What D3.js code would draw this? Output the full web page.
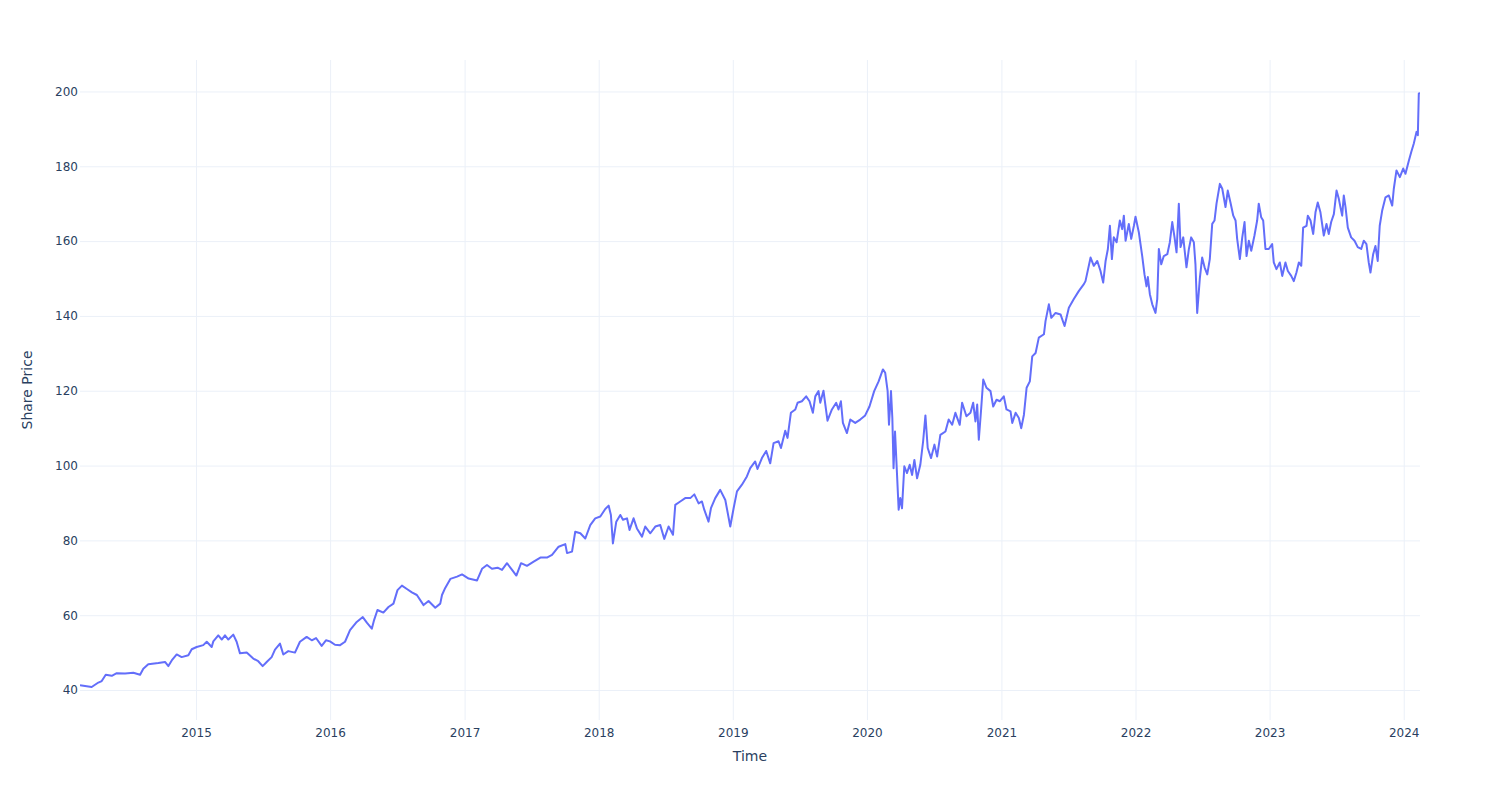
<!DOCTYPE html>
<html>
<head>
<meta charset="utf-8">
<script src="https://cdn.jsdelivr.net/npm/d3@7"></script>
<style>
  html, body { margin: 0; padding: 0; background: #fff; }
  svg { display: block; }
  text { font-family: "DejaVu Sans", "Open Sans", Verdana, Arial, sans-serif; }
</style>
</head>
<body>
<svg id="chart" width="1500" height="800"></svg>
<script>
// ---- data (decimal year, share price) ----
const timeYears = [
  2014.135, 2014.222, 2014.272, 2014.297, 2014.327, 2014.372, 2014.409, 2014.471, 2014.533, 2014.583,
  2014.607, 2014.644, 2014.719, 2014.769, 2014.794, 2014.819, 2014.856, 2014.893, 2014.943, 2014.968,
  2015.005, 2015.054, 2015.080, 2015.117, 2015.129, 2015.166, 2015.192, 2015.216, 2015.241, 2015.278,
  2015.303, 2015.328, 2015.378, 2015.427, 2015.464, 2015.497, 2015.527, 2015.564, 2015.589, 2015.626,
  2015.651, 2015.688, 2015.738, 2015.775, 2015.825, 2015.863, 2015.895, 2015.937, 2015.969, 2015.999,
  2016.036, 2016.074, 2016.111, 2016.148, 2016.198, 2016.243, 2016.273, 2016.310, 2016.327, 2016.352,
  2016.396, 2016.434, 2016.471, 2016.501, 2016.534, 2016.571, 2016.608, 2016.645, 2016.695, 2016.732,
  2016.782, 2016.819, 2016.832, 2016.856, 2016.894, 2016.944, 2016.981, 2017.030, 2017.093, 2017.130,
  2017.167, 2017.204, 2017.246, 2017.279, 2017.316, 2017.354, 2017.386, 2017.421, 2017.465, 2017.515,
  2017.565, 2017.614, 2017.652, 2017.701, 2017.751, 2017.764, 2017.801, 2017.825, 2017.863, 2017.900,
  2017.937, 2017.974, 2018.012, 2018.049, 2018.074, 2018.091, 2018.106, 2018.131, 2018.161, 2018.181,
  2018.211, 2018.230, 2018.260, 2018.285, 2018.323, 2018.347, 2018.385, 2018.422, 2018.459, 2018.489,
  2018.521, 2018.554, 2018.571, 2018.608, 2018.645, 2018.683, 2018.713, 2018.745, 2018.770, 2018.787,
  2018.819, 2018.837, 2018.869, 2018.906, 2018.944, 2018.981, 2019.006, 2019.031, 2019.068, 2019.105,
  2019.130, 2019.167, 2019.184, 2019.217, 2019.249, 2019.279, 2019.304, 2019.341, 2019.359, 2019.391,
  2019.408, 2019.433, 2019.466, 2019.483, 2019.515, 2019.547, 2019.572, 2019.597, 2019.615, 2019.639,
  2019.652, 2019.676, 2019.706, 2019.739, 2019.771, 2019.788, 2019.806, 2019.821, 2019.851, 2019.876,
  2019.913, 2019.950, 2019.987, 2020.019, 2020.054, 2020.087, 2020.119, 2020.136, 2020.154, 2020.164,
  2020.179, 2020.189, 2020.198, 2020.209, 2020.224, 2020.236, 2020.248, 2020.261, 2020.278, 2020.298,
  2020.318, 2020.336, 2020.353, 2020.373, 2020.397, 2020.418, 2020.435, 2020.452, 2020.477, 2020.502,
  2020.522, 2020.546, 2020.584, 2020.608, 2020.634, 2020.658, 2020.690, 2020.708, 2020.740, 2020.770,
  2020.790, 2020.807, 2020.820, 2020.832, 2020.850, 2020.865, 2020.889, 2020.919, 2020.939, 2020.964,
  2020.989, 2021.018, 2021.038, 2021.068, 2021.081, 2021.106, 2021.130, 2021.148, 2021.168, 2021.188,
  2021.212, 2021.230, 2021.255, 2021.279, 2021.317, 2021.329, 2021.354, 2021.372, 2021.404, 2021.441,
  2021.471, 2021.503, 2021.540, 2021.578, 2021.615, 2021.627, 2021.665, 2021.689, 2021.715, 2021.739,
  2021.759, 2021.777, 2021.794, 2021.809, 2021.824, 2021.838, 2021.859, 2021.883, 2021.901, 2021.913,
  2021.926, 2021.950, 2021.968, 2021.988, 2022.000, 2022.025, 2022.050, 2022.067, 2022.082, 2022.092,
  2022.107, 2022.125, 2022.149, 2022.162, 2022.174, 2022.192, 2022.211, 2022.237, 2022.256, 2022.274,
  2022.291, 2022.306, 2022.323, 2022.336, 2022.356, 2022.380, 2022.398, 2022.415, 2022.435, 2022.447,
  2022.460, 2022.480, 2022.497, 2022.515, 2022.535, 2022.554, 2022.572, 2022.589, 2022.604, 2022.629,
  2022.647, 2022.671, 2022.688, 2022.708, 2022.729, 2022.746, 2022.758, 2022.778, 2022.796, 2022.813,
  2022.828, 2022.845, 2022.863, 2022.887, 2022.907, 2022.919, 2022.937, 2022.952, 2022.969, 2022.994,
  2023.019, 2023.031, 2023.051, 2023.076, 2023.094, 2023.118, 2023.136, 2023.161, 2023.180, 2023.200,
  2023.218, 2023.236, 2023.250, 2023.275, 2023.285, 2023.305, 2023.325, 2023.342, 2023.359, 2023.379,
  2023.404, 2023.424, 2023.441, 2023.459, 2023.479, 2023.499, 2023.516, 2023.528, 2023.541, 2023.553,
  2023.566, 2023.583, 2023.608, 2023.633, 2023.657, 2023.683, 2023.702, 2023.722, 2023.739, 2023.752,
  2023.772, 2023.789, 2023.806, 2023.821, 2023.839, 2023.864, 2023.889, 2023.914, 2023.926, 2023.946,
  2023.971, 2023.996, 2024.013, 2024.038, 2024.056, 2024.075, 2024.095, 2024.105, 2024.112, 2024.121
];
const sharePrice = [
  41.3, 40.8, 42.0, 42.4, 44.1, 43.8, 44.5, 44.4, 44.6, 44.1,
  45.7, 46.9, 47.2, 47.5, 46.4, 47.9, 49.5, 48.8, 49.3, 50.9,
  51.5, 52.0, 52.9, 51.5, 53.0, 54.6, 53.5, 54.6, 53.5, 54.8,
  52.9, 49.8, 50.0, 48.4, 47.7, 46.4, 47.5, 48.8, 50.8, 52.4,
  49.5, 50.4, 50.0, 52.9, 54.2, 53.3, 53.9, 51.8, 53.3, 53.0,
  52.1, 52.0, 52.9, 56.0, 58.2, 59.5, 58.0, 56.4, 58.7, 61.4,
  60.7, 62.2, 63.1, 66.7, 67.9, 67.0, 66.1, 65.4, 62.7, 63.8,
  62.0, 63.1, 65.4, 67.3, 69.7, 70.3, 70.9, 69.8, 69.3, 72.4,
  73.4, 72.4, 72.7, 72.1, 73.9, 72.1, 70.6, 73.9, 73.2, 74.3,
  75.4, 75.4, 76.1, 78.3, 79.0, 76.6, 77.0, 82.3, 81.9, 80.5,
  84.1, 85.9, 86.4, 88.4, 89.3, 86.8, 79.2, 85.0, 86.8, 85.5,
  85.9, 82.8, 85.9, 83.2, 81.0, 83.7, 81.9, 83.7, 84.1, 80.4,
  83.7, 81.5, 89.5, 90.4, 91.3, 91.3, 92.3, 89.9, 90.4, 88.2,
  85.0, 88.6, 91.3, 93.5, 90.8, 83.7, 88.6, 93.1, 94.9, 97.1,
  99.3, 101.1, 99.1, 102.0, 103.9, 100.6, 106.0, 106.5, 104.7, 109.3,
  107.4, 114.1, 115.0, 116.8, 117.2, 118.5, 117.2, 114.1, 118.5, 119.9,
  116.8, 120.0, 112.0, 115.0, 116.8, 115.0, 117.2, 111.4, 108.7, 112.3,
  111.4, 112.3, 113.4, 115.8, 119.9, 122.5, 125.7, 124.8, 119.9, 110.9,
  119.9, 112.7, 99.3, 109.1, 97.5, 88.2, 91.3, 88.6, 99.8, 98.0,
  100.2, 97.5, 101.5, 96.6, 100.2, 106.5, 113.4, 104.7, 102.0, 105.6,
  102.4, 108.2, 109.1, 112.3, 110.9, 114.1, 110.9, 116.8, 113.2, 114.1,
  116.8, 111.8, 116.3, 106.9, 115.4, 123.0, 120.8, 119.9, 115.8, 117.6,
  117.2, 118.5, 115.0, 114.5, 111.4, 114.1, 112.7, 110.0, 113.6, 120.8,
  122.5, 129.2, 130.1, 134.2, 135.1, 138.6, 143.1, 139.5, 140.8, 140.4,
  137.3, 142.2, 144.5, 146.7, 148.5, 149.3, 155.6, 153.4, 154.7, 152.0,
  148.9, 154.7, 157.9, 164.1, 155.2, 161.0, 159.7, 165.5, 163.2, 166.8,
  160.1, 164.6, 160.6, 164.1, 166.5, 162.3, 156.0, 151.1, 147.9, 150.4,
  145.8, 143.1, 140.8, 144.5, 157.9, 153.8, 156.0, 156.5, 159.7, 165.1,
  161.0, 157.0, 170.0, 158.4, 161.0, 153.0, 157.9, 161.0, 159.7, 153.8,
  140.8, 150.2, 155.6, 153.0, 151.1, 155.2, 164.6, 165.5, 170.0, 175.3,
  174.0, 169.1, 173.5, 170.3, 166.8, 165.5, 160.6, 155.2, 161.0, 165.1,
  156.0, 160.1, 157.4, 161.5, 165.5, 170.0, 166.4, 165.5, 157.9, 157.9,
  159.2, 154.3, 152.5, 154.3, 150.7, 154.3, 152.0, 150.7, 149.3, 151.6,
  154.3, 153.4, 163.6, 164.1, 166.8, 165.5, 161.9, 167.7, 170.3, 167.7,
  161.5, 164.6, 161.9, 165.1, 167.2, 173.5, 171.3, 169.1, 166.8, 172.2,
  169.1, 163.6, 161.0, 160.1, 158.4, 157.9, 160.1, 159.2, 154.3, 151.6,
  156.5, 158.7, 154.7, 164.1, 168.1, 171.7, 172.2, 169.5, 174.0, 178.9,
  177.1, 179.4, 178.0, 181.5, 183.8, 186.1, 189.2, 188.3, 199.4, 199.6
];
const xTickYears = [2015, 2016, 2017, 2018, 2019, 2020, 2021, 2022, 2023, 2024];
const yTickValues = [40, 60, 80, 100, 120, 140, 160, 180, 200];
const xAxisTitle = "Time";
const yAxisTitle = "Share Price";

// ---- helpers ----
function yearToDate(yv) {
  const yr = Math.floor(yv);
  const start = Date.UTC(yr, 0, 1), end = Date.UTC(yr + 1, 0, 1);
  return new Date(start + (yv - yr) * (end - start));
}
const data = timeYears.map((t, i) => ({ date: yearToDate(t), price: sharePrice[i] }));

// ---- layout ----
const plotL = 80, plotR = 1420, plotT = 60, plotB = 720;
const svg = d3.select("#chart");

const x = d3.scaleUtc()
  .domain(d3.extent(data, d => d.date))
  .range([plotL, plotR]);
const yMin = d3.min(sharePrice), yMax = d3.max(sharePrice);
const pad = (yMax - yMin) * 0.0555;
const y = d3.scaleLinear()
  .domain([yMin - pad, yMax + pad])
  .range([plotB, plotT]);

const gridColor = "#ebf0f8";
const textColor = "#2a3f5f";
const fontFam = '"DejaVu Sans", "Open Sans", Verdana, sans-serif';

// vertical gridlines + x tick labels
const xTicks = xTickYears.map(yr => new Date(Date.UTC(yr, 0, 1)));
svg.append("g")
  .attr("transform", `translate(0,${plotB})`)
  .call(d3.axisBottom(x).tickValues(xTicks).tickSize(-(plotB - plotT)).tickFormat(d3.utcFormat("%Y")).tickPadding(8))
  .call(g => g.select(".domain").remove())
  .call(g => g.selectAll(".tick line").attr("stroke", gridColor).attr("stroke-width", 1))
  .call(g => g.selectAll(".tick text").attr("fill", textColor).attr("font-size", 12).attr("font-family", fontFam));

// horizontal gridlines + y tick labels
svg.append("g")
  .attr("transform", `translate(${plotL},0)`)
  .call(d3.axisLeft(y).tickValues(yTickValues).tickSize(-(plotR - plotL)).tickPadding(2))
  .call(g => g.select(".domain").remove())
  .call(g => g.selectAll(".tick line").attr("stroke", gridColor).attr("stroke-width", 1))
  .call(g => g.selectAll(".tick text").attr("fill", textColor).attr("font-size", 12).attr("font-family", fontFam));

// line
const line = d3.line().x(d => x(d.date)).y(d => y(d.price));
svg.append("defs").append("clipPath").attr("id", "clip")
  .append("rect").attr("x", plotL).attr("y", plotT).attr("width", plotR - plotL).attr("height", plotB - plotT);
svg.append("path")
  .datum(data)
  .attr("clip-path", "url(#clip)")
  .attr("fill", "none")
  .attr("stroke", "#636efa")
  .attr("stroke-width", 2)
  .attr("stroke-linejoin", "round")
  .attr("d", line);

// axis titles
svg.append("text")
  .attr("x", (plotL + plotR) / 2).attr("y", 761)
  .attr("text-anchor", "middle").attr("font-size", 14).attr("fill", textColor).attr("font-family", fontFam)
  .text(xAxisTitle);
svg.append("text")
  .attr("transform", `translate(32,${(plotT + plotB) / 2}) rotate(-90)`)
  .attr("text-anchor", "middle").attr("font-size", 14).attr("fill", textColor).attr("font-family", fontFam)
  .text(yAxisTitle);
</script>
</body>
</html>
